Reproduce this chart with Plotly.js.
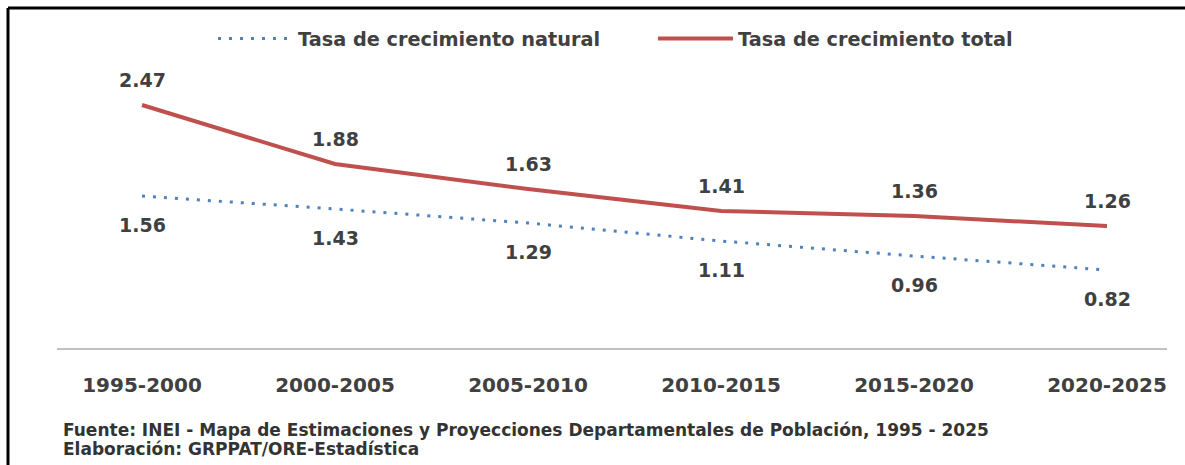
<!DOCTYPE html>
<html>
<head>
<meta charset="utf-8">
<script src="https://cdn.plot.ly/plotly-3.0.1.min.js"></script>
<style>
html,body{margin:0;padding:0;background:#fff;}
#chart{width:1185px;height:465px;}
</style>
</head>
<body>
<div id="chart"></div>
<script>
const periods = ["1995-2000","2000-2005","2005-2010","2010-2015","2015-2020","2020-2025"];
const natural = [1.56, 1.43, 1.29, 1.11, 0.96, 0.82];
const total = [2.47, 1.88, 1.63, 1.41, 1.36, 1.26];
const seriesNames = ["Tasa de crecimiento natural", "Tasa de crecimiento total"];
const footer = [
  "Fuente: INEI - Mapa de Estimaciones y Proyecciones Departamentales de Población, 1995 - 2025",
  "Elaboración: GRPPAT/ORE-Estadística"
];

const W = 1185, H = 465;
const mL = 57, mR = 18, mT = 60, mB = 117;
const pw = W - mL - mR, ph = H - mT - mB;
const px = v => (v - mL) / pw;
const py = v => (H - mB - v) / ph;

const labelFont = {family: "DejaVu Sans", size: 19, color: "#404040", weight: "bold"};

const traces = [
  {x: periods, y: natural, name: seriesNames[0], type: "scatter", mode: "lines",
   line: {color: "#4F81BD", width: 3, dash: "3px,8px"}},
  {x: periods, y: total, name: seriesNames[1], type: "scatter", mode: "lines",
   line: {color: "#C0504D", width: 4}}
];

const annotations = [];
periods.forEach((p, i) => {
  annotations.push({x: p, y: total[i], xref: "x", yref: "y", text: total[i].toFixed(2),
    showarrow: false, yshift: 25, font: labelFont});
  annotations.push({x: p, y: natural[i], xref: "x", yref: "y", text: natural[i].toFixed(2),
    showarrow: false, yshift: -29, font: labelFont});
});
footer.forEach((t, i) => {
  annotations.push({x: px(61), y: py(430 + i * 19), xref: "paper", yref: "paper", text: t,
    xanchor: "left", yanchor: "middle", showarrow: false,
    font: {family: "DejaVu Sans", size: 17, color: "#333333", weight: "bold"}});
});

const layout = {
  width: W, height: H,
  margin: {l: mL, r: mR, t: mT, b: mB, pad: 0},
  paper_bgcolor: "#ffffff", plot_bgcolor: "#ffffff",
  showlegend: true,
  legend: {orientation: "h", x: px(213), xanchor: "left", y: py(39), yanchor: "middle",
    itemwidth: 75, entrywidth: 350, entrywidthmode: "pixels",
    font: {family: "DejaVu Sans", size: 19.3, color: "#404040", weight: "bold"},
    bgcolor: "rgba(0,0,0,0)"},
  xaxis: {type: "category", range: [-0.4404, 5.3109], showgrid: false, zeroline: false,
    showline: true, linecolor: "#BFBFBF", linewidth: 2, ticks: "", ticklabelstandoff: 18,
    tickfont: {family: "DejaVu Sans", size: 20, color: "#404040", weight: "bold"},
    fixedrange: true},
  yaxis: {range: [0.04, 0.04 + ph / 100], showgrid: false, zeroline: false, showline: false,
    showticklabels: false, ticks: "", fixedrange: true},
  annotations: annotations,
  shapes: [
    {type: "line", xref: "paper", yref: "paper", x0: px(8), x1: px(8), y0: py(8), y1: py(470),
     line: {color: "#000000", width: 3}},
    {type: "line", xref: "paper", yref: "paper", x0: px(8), x1: px(1190), y0: py(8), y1: py(8),
     line: {color: "#000000", width: 3}}
  ]
};

Plotly.newPlot("chart", traces, layout, {displayModeBar: false, staticPlot: true});
</script>
</body>
</html>
